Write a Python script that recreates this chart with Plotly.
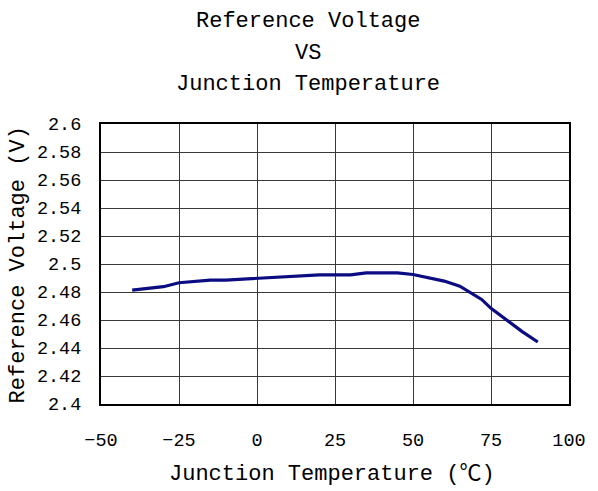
import plotly.graph_objects as go

temps = [-40, -30, -25, -15, -10, 0, 20, 30, 35, 45, 50, 60, 65, 72, 75, 85, 90]
volts = [2.4813, 2.4838, 2.4866, 2.4885, 2.4885, 2.4897, 2.4923, 2.4923, 2.4937,
         2.4937, 2.4925, 2.4878, 2.4842, 2.4747, 2.4683, 2.4517, 2.4443]
title_lines = ["Reference Voltage", "VS", "Junction Temperature"]
x_title = "Junction Temperature (℃)"
y_title = "Reference Voltage (V)"

FONT = "Liberation Mono, Noto Sans CJK SC, monospace"
W, H = 598, 491
# plot area in page pixels: left 101, right 577, top 124, bottom 404
L, R, T, B = 101, 598 - 577, 124, 491 - 404
pw, ph = W - L - R, H - T - B

def px_x(x):
    return (x - L) / pw

def px_y(y):
    return (H - B - y) / ph

fig = go.Figure()
fig.add_trace(go.Scatter(x=temps, y=volts, mode="lines",
                         line=dict(color="#0b0b82", width=3.2), showlegend=False))

annotations = []
for line, yc in zip(title_lines, [22, 53, 84]):
    annotations.append(dict(text=line, x=px_x(312), y=px_y(yc), xref="paper", yref="paper",
                            xanchor="center", yanchor="middle", showarrow=False,
                            font=dict(family=FONT, size=22, color="black")))
annotations.append(dict(text=x_title, x=px_x(336), y=px_y(474), xref="paper", yref="paper",
                        xanchor="center", yanchor="middle", showarrow=False,
                        font=dict(family=FONT, size=22, color="black")))
annotations.append(dict(text=y_title, x=px_x(17), y=px_y(265), xref="paper", yref="paper",
                        xanchor="center", yanchor="middle", showarrow=False, textangle=-90,
                        font=dict(family=FONT, size=22, color="black")))

fig.update_layout(
    width=W, height=H,
    margin=dict(l=L, r=R, t=T, b=B),
    paper_bgcolor="white", plot_bgcolor="white",
    annotations=annotations,
    font=dict(family=FONT, color="black"),
)
fig.update_xaxes(range=[-50, 100], dtick=25, tick0=-50, showgrid=True, gridcolor="#3a3a3a",
                 gridwidth=1, showline=True, linecolor="black", linewidth=2, mirror=True,
                 zeroline=False, ticks="", ticklabelstandoff=18,
                 tickfont=dict(family=FONT, size=18.5, color="black"))
fig.update_yaxes(range=[2.4, 2.6], dtick=0.02, tick0=2.4, showgrid=True, gridcolor="#3a3a3a",
                 gridwidth=1, showline=True, linecolor="black", linewidth=2, mirror=True,
                 zeroline=False, ticks="", ticklabelstandoff=14,
                 tickfont=dict(family=FONT, size=18.5, color="black"))

fig.write_html("out.html", config={"displayModeBar": False},
               post_script="document.body.style.margin='0';document.body.style.padding='0';")
